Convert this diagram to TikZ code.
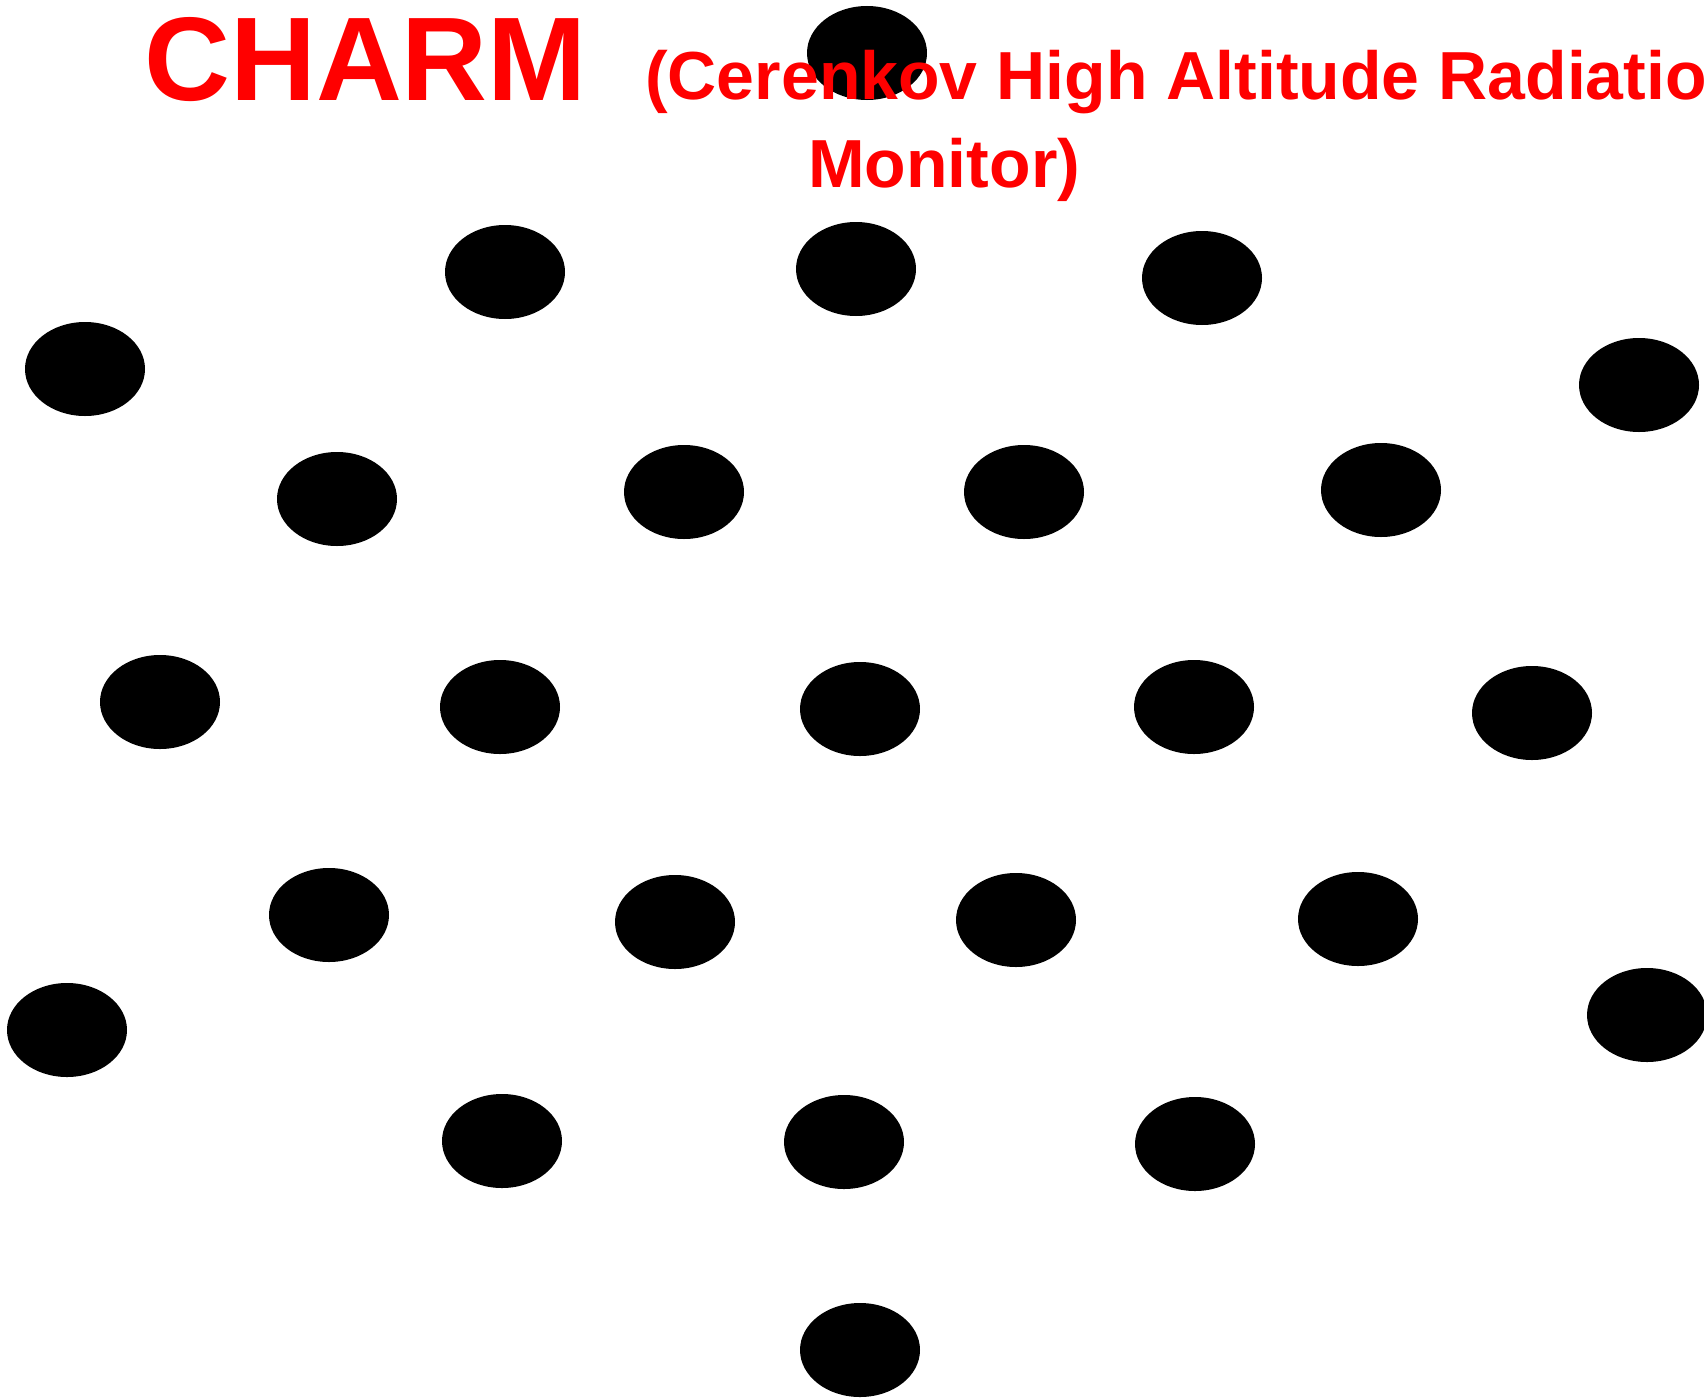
\documentclass[tikz,border=0pt]{standalone}
\usepackage{fontspec}
\setmainfont{Liberation Sans}
\definecolor{titlered}{RGB}{255,0,0}
\begin{document}
\begin{tikzpicture}[x=1pt,y=-1pt,
  dotstyle/.style={fill=black},
  titlestyle/.style={text=titlered, inner sep=0pt, anchor=base west, font=\bfseries}]
\useasboundingbox[fill=white] (0,0) rectangle (1704,1397);
\begin{scope}
\clip (0,0) rectangle (1704,1397);
\foreach \px/\py in {
  867/53,
  505/272, 856/269, 1202/278,
  85/369, 1639/385,
  337/499, 684/492, 1024/492, 1381/490,
  160/702, 500/707, 860/709, 1194/707, 1532/713,
  329/915, 675/922, 1016/920, 1358/919,
  67/1030, 1647/1015,
  502/1141, 844/1142, 1195/1144,
  860/1350}
  \fill[dotstyle] (\px,\py) ellipse [x radius=60pt, y radius=47pt];
\node[titlestyle] (charm) at (144,100) {\fontsize{119}{119}\selectfont CHARM};
\node[titlestyle] (full1) at (645,99) {\fontsize{68}{68}\selectfont (Cerenkov High Altitude Radiation};
\node[titlestyle] (full2) at (808,187) {\fontsize{68}{68}\selectfont Monitor)};
\end{scope}
\end{tikzpicture}
\end{document}
